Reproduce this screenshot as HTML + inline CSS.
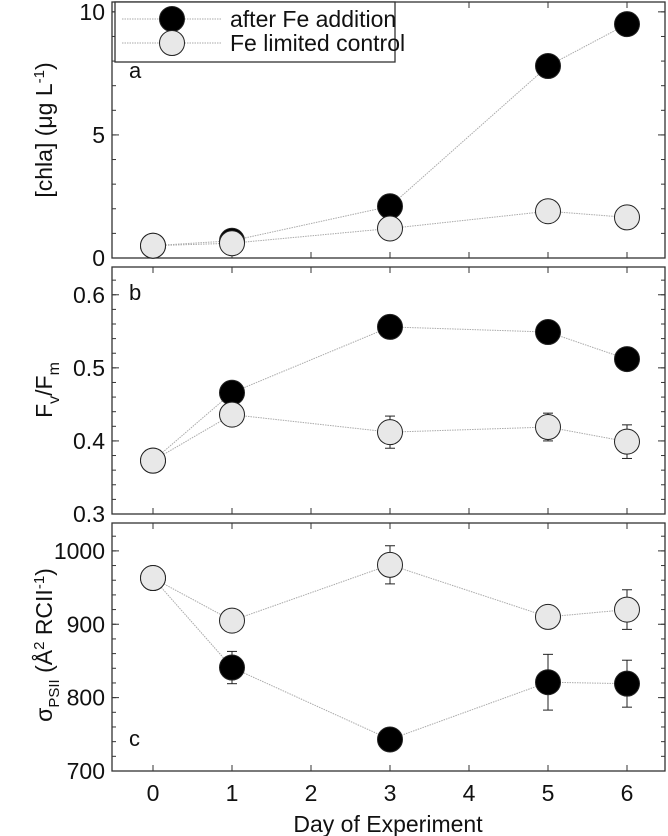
<!DOCTYPE html>
<html><head><meta charset="utf-8"><style>body{margin:0;background:#fff}svg{display:block;font-family:"Liberation Sans",Arial,sans-serif}</style></head>
<body>
<svg id="chart" width="668" height="836" viewBox="0 0 668 836"></svg>
<script>
const days=[0,1,3,5,6];
const chlaFe=[0.5,0.7,2.1,7.8,9.5];
const chlaCtl=[0.5,0.6,1.2,1.9,1.65];
const fvfmFe=[0.373,0.466,0.556,0.549,0.512];
const fvfmCtl=[0.373,0.436,0.412,0.419,0.399];
const fvfmCtlErr=[0,0,0.022,0.019,0.023];
const sigFe=[963,841,743,821,819];
const sigFeErr=[0,22,0,38,32];
const sigCtl=[963,905,981,910,920];
const sigCtlErr=[0,0,26,0,27];
const xTicks=[0,1,2,3,4,5,6];

const NS="http://www.w3.org/2000/svg",svg=document.getElementById('chart');
function el(t,a,p){const e=document.createElementNS(NS,t);for(const k in a)e.setAttribute(k,a[k]);(p||svg).appendChild(e);return e;}
const L=112,R=665;
const x=d=>153+d*79;
const panels=[
 {name:'chla',top:2,bot:258,min:0,max:10.4,ticks:[0,5,10],minor:1,lab:'a',labY:78},
 {name:'fvfm',top:267,bot:514,min:0.3,max:0.638,ticks:[0.3,0.4,0.5,0.6],minor:0.02,lab:'b',labY:300},
 {name:'sigma',top:523,bot:771,min:700,max:1038,ticks:[700,800,900,1000],minor:20,lab:'c',labY:746}
];
panels.forEach(p=>{p.y=v=>p.bot-(v-p.min)/(p.max-p.min)*(p.bot-p.top);});
panels.forEach(p=>{
 const g=el('g',{});
 el('rect',{x:L,y:p.top,width:R-L,height:p.bot-p.top,fill:'none',stroke:'#333','stroke-width':1.3},g);
 xTicks.forEach(d=>{el('line',{x1:x(d),x2:x(d),y1:p.bot,y2:p.bot-6,stroke:'#333'},g);el('line',{x1:x(d),x2:x(d),y1:p.top,y2:p.top+6,stroke:'#333'},g);});
 for(let v=p.min;v<=p.max+1e-9;v+=p.minor){const yy=p.y(v);el('line',{x1:L,x2:L+4,y1:yy,y2:yy,stroke:'#333'},g);el('line',{x1:R,x2:R-4,y1:yy,y2:yy,stroke:'#333'},g);}
 p.ticks.forEach(v=>{const yy=p.y(v);el('line',{x1:L,x2:L+7,y1:yy,y2:yy,stroke:'#333'},g);el('line',{x1:R,x2:R-7,y1:yy,y2:yy,stroke:'#333'},g);
  const t=el('text',{x:L-7,y:yy+8,'text-anchor':'end','font-size':23,fill:'#111'},g);t.textContent=String(v);});
 const lt=el('text',{x:129,y:p.labY,'font-size':22,fill:'#111'},g);lt.textContent=p.lab;
});
function series(p,vals,errs,fill,name){
 const g=el('g',{});
 el('polyline',{points:days.map((d,i)=>x(d)+','+p.y(vals[i])).join(' '),fill:'none',stroke:'#aaa','stroke-width':1,'stroke-dasharray':'1.5,1'},g);
 if(errs)days.forEach((d,i)=>{if(!errs[i])return;const a=p.y(vals[i]-errs[i]),b=p.y(vals[i]+errs[i]);
  el('line',{x1:x(d),x2:x(d),y1:a,y2:b,stroke:'#222'},g);el('line',{x1:x(d)-5,x2:x(d)+5,y1:a,y2:a,stroke:'#222'},g);el('line',{x1:x(d)-5,x2:x(d)+5,y1:b,y2:b,stroke:'#222'},g);});
 days.forEach((d,i)=>{const c=el('circle',{cx:x(d),cy:p.y(vals[i]),r:12.5,fill:fill,stroke:'#222','stroke-width':1},g);});
}
series(panels[0],chlaFe,null,'#000','chla-fe-series');
series(panels[0],chlaCtl,null,'#e8e8e8','chla-control-series');
series(panels[1],fvfmFe,null,'#000','fvfm-fe-series');
series(panels[1],fvfmCtl,fvfmCtlErr,'#e8e8e8','fvfm-control-series');
series(panels[2],sigFe,sigFeErr,'#000','sigma-fe-series');
series(panels[2],sigCtl,sigCtlErr,'#e8e8e8','sigma-control-series');
xTicks.forEach(d=>{const t=el('text',{x:x(d),y:801,'text-anchor':'middle','font-size':23,fill:'#111'});t.textContent=String(d);});
</script>
<svg width="668" height="836" style="position:absolute;left:0;top:0">
 <g>
  <rect x="115" y="2" width="280" height="60" fill="#fff" stroke="#333" stroke-width="1.3"/>
  <line x1="122" x2="222" y1="19" y2="19" stroke="#aaa" stroke-dasharray="1.5,1"/>
  <circle cx="172" cy="19" r="12.5" fill="#000" stroke="#222"/>
  <text x="230" y="27" font-size="23" fill="#111" font-family="Liberation Sans, sans-serif">after Fe addition</text>
  <line x1="122" x2="222" y1="43" y2="43" stroke="#aaa" stroke-dasharray="1.5,1"/>
  <circle cx="172" cy="43" r="12.5" fill="#e8e8e8" stroke="#222"/>
  <text x="230" y="51" font-size="23" fill="#111" font-family="Liberation Sans, sans-serif">Fe limited control</text>
 </g>
 <text transform="translate(52,130) rotate(-90)" text-anchor="middle" font-size="23" fill="#111" font-family="Liberation Sans, sans-serif">[chla] (μg L<tspan dy="-8" font-size="15">-1</tspan><tspan dy="8">)</tspan></text>
 <text transform="translate(52,390) rotate(-90)" text-anchor="middle" font-size="23" fill="#111" font-family="Liberation Sans, sans-serif">F<tspan dy="7" font-size="16">v</tspan><tspan dy="-7">/F</tspan><tspan dy="7" font-size="16">m</tspan></text>
 <text transform="translate(52,645) rotate(-90)" text-anchor="middle" font-size="23" fill="#111" font-family="Liberation Sans, sans-serif">σ<tspan dy="7" font-size="15">PSII</tspan><tspan dy="-7"> (Å</tspan><tspan dy="-8" font-size="15">2</tspan><tspan dy="8"> RCII</tspan><tspan dy="-8" font-size="15">-1</tspan><tspan dy="8">)</tspan></text>
 <text x="388" y="832" text-anchor="middle" font-size="23" fill="#111" font-family="Liberation Sans, sans-serif">Day of Experiment</text>
</svg>
</body></html>
